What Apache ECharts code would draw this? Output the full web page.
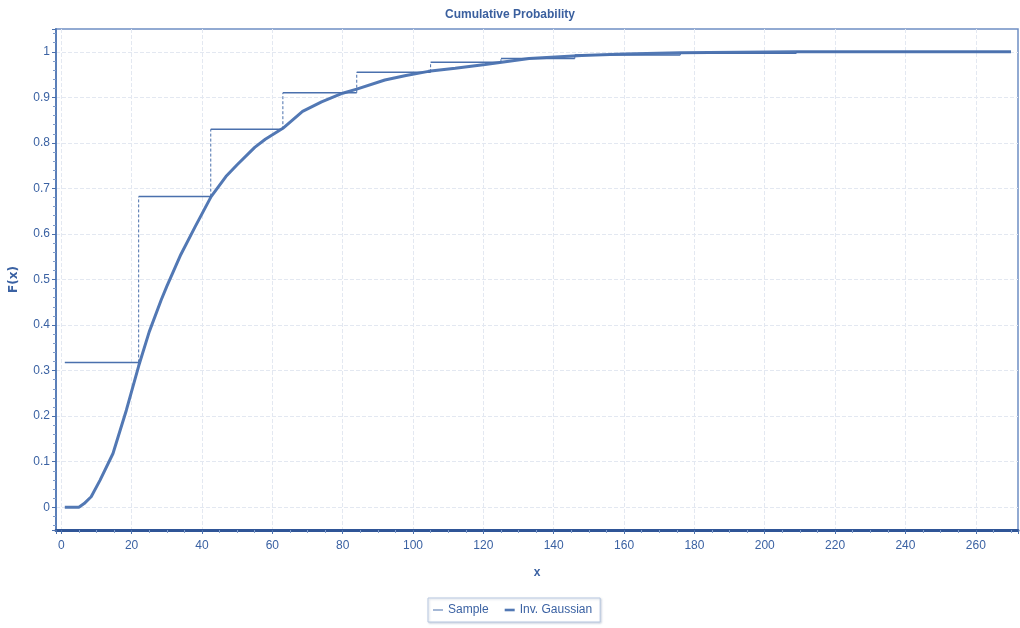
<!DOCTYPE html>
<html>
<head>
<meta charset="utf-8">
<title>Cumulative Probability</title>
<script src="https://cdn.jsdelivr.net/npm/echarts@6/dist/echarts.min.js"></script>
<style>
	html, body { margin: 0; padding: 0; background: #fff; }
	#chart { width: 1020px; height: 628px; }
</style>
</head>
<body>
<div id="chart"></div>
<script>
// sample ECDF: step edges and level of each step
const sampleX = [1, 22, 42.5, 63, 84, 105, 125, 146, 176, 209, 270]
const sampleF = [0.318, 0.682, 0.83, 0.91, 0.955, 0.977, 0.985, 0.993, 0.997, 1.0]

// fitted Inverse Gaussian CDF
const curveX = [1, 3, 5, 6.5, 8.5, 11, 14.7, 18.5, 22, 25, 28.4, 30, 34, 38, 42.6, 46.8, 50, 55, 58, 63, 68.6, 74, 80, 84, 92, 98, 104.4, 112, 120.5, 133, 148, 160, 176, 209, 270]
const curveF = [0, 0, 0, 0.008, 0.023, 0.059, 0.118, 0.213, 0.31, 0.385, 0.455, 0.485, 0.555, 0.615, 0.682, 0.726, 0.752, 0.79, 0.808, 0.832, 0.869, 0.89, 0.909, 0.918, 0.938, 0.948, 0.957, 0.964, 0.972, 0.985, 0.992, 0.995, 0.998, 1.0, 1.0]

const blue = "#4a70ad"
const labelColor = "#3b62a3"
const font = "'Liberation Sans Narrow', 'Liberation Sans', Arial, sans-serif"

// horizontal pieces of the step line, split by gaps
let stepFlat = []
for (let i = 0; i < sampleF.length; i++) {
	stepFlat.push([sampleX[i], sampleF[i]])
	stepFlat.push([sampleX[i + 1], sampleF[i]])
	stepFlat.push("-")
}
// dashed risers between steps
let stepRise = []
for (let i = 0; i < sampleF.length - 1; i++) {
	stepRise.push([sampleX[i + 1], sampleF[i]])
	stepRise.push([sampleX[i + 1], sampleF[i + 1]])
	stepRise.push("-")
}
const curve = curveX.map((x, i) => [x, curveF[i]])

const chart = echarts.init(document.getElementById("chart"))
chart.setOption({
	animation: false,
	backgroundColor: "#fff",
	title: {
		text: "Cumulative Probability",
		left: "center",
		top: 4,
		textStyle: {
			color: "#3a5f9e",
			fontSize: 12,
			fontWeight: "bold",
			fontFamily: "'Liberation Sans', Arial, sans-serif"
		}
	},
	legend: {
		left: 428,
		top: 598,
		padding: [6, 8, 6, 5],
		itemGap: 16,
		itemWidth: 10,
		itemHeight: 10,
		symbolKeepAspect: true,
		borderColor: "#b9c8e0",
		borderWidth: 1,
		shadowColor: "rgba(120,140,170,0.35)",
		shadowBlur: 2,
		shadowOffsetX: 1,
		shadowOffsetY: 1,
		backgroundColor: "#fff",
		textStyle: { color: labelColor, fontSize: 12, fontFamily: font },
		data: [
			{ name: "Sample", icon: "path://M0,0H10V1H0Z" },
			{ name: "Inv. Gaussian", icon: "path://M0,0H10V2.6H0Z" }
		]
	},
	grid: {
		left: 53,
		right: 2,
		top: 29,
		bottom: 98,
		show: true,
		borderColor: "#6f8fc4",
		borderWidth: 1.5
	},
	xAxis: {
		type: "value",
		min: -1.5,
		max: 272,
		splitNumber: 14,
		name: "x",
		nameLocation: "middle",
		nameGap: 37,
		nameTextStyle: { color: labelColor, fontWeight: "bold", fontSize: 12, fontFamily: "'Liberation Sans', Arial" },
		axisLine: { onZero: false, lineStyle: { color: "#2f5597", width: 3 } },
		axisTick: { length: 4, lineStyle: { color: "#4a70ad" } },
		minorTick: { show: true, splitNumber: 4, length: 3, lineStyle: { color: "#7f9ccb" } },
		axisLabel: {
			color: labelColor,
			fontSize: 12,
			fontFamily: font,
			margin: 10,
			showMinLabel: false,
			showMaxLabel: false
		},
		splitLine: { showMinLine: false, showMaxLine: false, lineStyle: { type: "dashed", color: "#e3e8f1" } }
	},
	yAxis: {
		type: "value",
		min: -0.05,
		max: 1.05,
		splitNumber: 11,
		name: "F(x)",
		nameLocation: "middle",
		nameGap: 36,
		nameTextStyle: { color: labelColor, fontWeight: "bold", fontSize: 12, fontFamily: "'DejaVu Sans', sans-serif" },
		axisLine: { show: true, onZero: false, lineStyle: { color: "#5b7fb8", width: 2 } },
		axisTick: { show: true, length: 4, lineStyle: { color: "#4a70ad" } },
		minorTick: { show: true, splitNumber: 5, length: 3, lineStyle: { color: "#7f9ccb" } },
		axisLabel: {
			color: labelColor,
			fontSize: 12,
			fontFamily: font,
			margin: 6,
			showMinLabel: false,
			showMaxLabel: false
		},
		splitLine: { showMinLine: false, showMaxLine: false, lineStyle: { type: "dashed", color: "#e3e8f1" } }
	},
	series: [
		{
			name: "Sample",
			type: "line",
			data: stepFlat,
			showSymbol: false,
			symbol: "none",
			connectNulls: false,
			lineStyle: { color: blue, width: 1.5 },
			itemStyle: { color: blue },
			z: 3
		},
		{
			name: "Sample",
			type: "line",
			data: stepRise,
			showSymbol: false,
			symbol: "none",
			connectNulls: false,
			lineStyle: { color: blue, width: 1, type: [3, 2] },
			itemStyle: { color: blue },
			z: 3
		},
		{
			name: "Inv. Gaussian",
			type: "line",
			data: curve,
			showSymbol: false,
			symbol: "none",
			lineStyle: { color: "#5278b4", width: 3 },
			itemStyle: { color: "#5278b4" },
			z: 2
		}
	]
})
</script>
</body>
</html>
